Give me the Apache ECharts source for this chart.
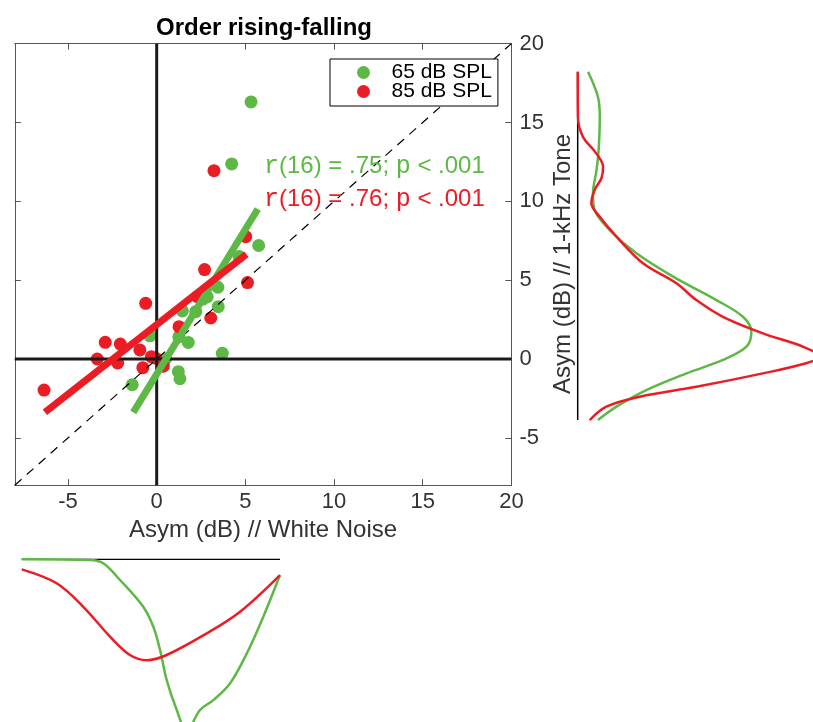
<!DOCTYPE html>
<html><head><meta charset="utf-8">
<script src="https://cdn.jsdelivr.net/npm/echarts@6/dist/echarts.min.js"></script>
<style>html,body{margin:0;padding:0;background:#fff}#c{width:813px;height:722px}</style>
</head><body><div id="c"></div>
<script>
// ---- data ----
const titleText = 'Order rising-falling';
const xLabel = 'Asym (dB) // White Noise';
const yLabel = 'Asym (dB) // 1-kHz Tone';
const seriesNames = ['65 dB SPL', '85 dB SPL'];
const tickValues = [-5, 0, 5, 10, 15, 20];
const axisMin = -8, axisMax = 20;

const green65X = [-1.38, 1.22, 1.31, 1.78, 1.25, 3.70, 3.47, 3.45, 2.85, 1.45, -0.38, 5.75, 4.65, 5.32, 4.23, 2.60, 2.20, 0.50];
const green65Y = [-1.63, -0.80, -1.25, 1.05, 1.40, 0.36, 3.32, 4.55, 3.95, 3.05, 1.47, 7.20, 6.50, 16.30, 12.37, 3.80, 3.00, 0.00];
const red85X = [-6.35, -2.90, -2.05, -3.35, -2.20, -0.95, -0.62, -0.78, -0.30, 0.37, 1.26, 2.70, 3.05, 5.12, 5.02, 3.23, 2.30, -0.05];
const red85Y = [-1.97, 1.06, 0.95, 0.00, -0.25, 0.58, 3.53, -0.55, 0.15, -0.45, 2.05, 5.67, 2.60, 4.85, 7.76, 11.94, 3.95, 0.05];

const fitGreenX = [-1.32, 5.70], fitGreenY = [-3.38, 9.51];
const fitRedX = [-6.30, 5.06], fitRedY = [-3.38, 6.64];

const statGreen = ['r', '(16) = .75; ', 'p', ' < .001'];
const statRed = ['r', '(16) = .76; ', 'p', ' < .001'];

// right marginal density (tone axis)
const rightGreenY = [18.22, 16.63, 15.36, 13.25, 11.98, 10.51, 9.45, 8.18, 6.70, 5.22, 3.74, 2.68, 1.73, 0.78, -0.06, -0.91, -1.97, -3.02, -3.87];
const rightGreenD = [0.044, 0.086, 0.094, 0.089, 0.080, 0.065, 0.072, 0.136, 0.250, 0.406, 0.590, 0.703, 0.739, 0.718, 0.618, 0.463, 0.292, 0.165, 0.086];
const rightRedY = [18.22, 15.36, 14.10, 13.04, 12.19, 11.46, 10.72, 9.87, 9.02, 7.76, 6.07, 4.80, 3.74, 2.68, 1.63, 0.78, 0.15, -0.27, -0.91, -1.76, -2.39, -3.02, -3.87];
const rightRedD = [0.000, 0.001, 0.022, 0.079, 0.108, 0.101, 0.072, 0.058, 0.094, 0.165, 0.278, 0.420, 0.505, 0.618, 0.788, 0.959, 1.030, 0.972, 0.788, 0.505, 0.264, 0.122, 0.051];
const rightBase = [18.22, -3.87];

// bottom marginal density (noise axis), drawn downward
const bottomGreenX = [-7.61, -3.76, -3.01, -2.07, -0.76, -0.19, 0.19, 0.56, 1.13, 1.69, 2.44, 3.19, 4.13, 5.08, 6.01, 6.95];
const bottomGreenD = [0.000, 0.003, 0.017, 0.088, 0.202, 0.287, 0.386, 0.513, 0.641, 0.730, 0.641, 0.599, 0.528, 0.400, 0.244, 0.067];
const bottomRedX = [-7.61, -5.64, -4.14, -2.63, -1.51, -0.56, 0.56, 2.82, 4.70, 6.95];
const bottomRedD = [0.043, 0.102, 0.202, 0.329, 0.407, 0.429, 0.407, 0.315, 0.223, 0.067];
const bottomBase = [-7.61, 6.95];
const densityMax = 1, bottomVisibleMax = 0.692;

// ---- styling ----
const GREEN = '#5DB845', RED = '#EC1C24', AX = '#555', TXT = '#333';
const FONT = '"Liberation Sans", Arial, Helvetica, sans-serif';
const zip = (a, b) => a.map((v, i) => [v, b[i]]);

const chart = echarts.init(document.getElementById('c'), null, {renderer: 'canvas'});

const mainTick = {show: true, inside: true, length: 6, lineStyle: {color: AX}, customValues: tickValues};
const mainLine = {show: true, onZero: false, lineStyle: {color: AX, width: 1}};
const hidden = {show: false};

const statRich = (col) => ({
  m: {fontFamily: '"Liberation Mono", "DejaVu Sans Mono", monospace', fontSize: 25, fill: col, color: col},
  s: {fontFamily: FONT, fontSize: 24, fill: col, color: col}
});
const statText = (parts) => '{m|' + parts[0] + '}{s|' + parts[1] + '}{m|' + parts[2] + '}{s|' + parts[3] + '}';

const option = {
  animation: false,
  backgroundColor: '#fff',
  title: {
    text: titleText, left: 259, top: 11, textAlign: 'center',
    textStyle: {fontFamily: FONT, fontWeight: 'bold', fontSize: 24, color: '#000'}
  },
  legend: {
    data: seriesNames, orient: 'vertical', left: 330, top: 59, align: 'left',
    padding: [3, 6, 4, 27], itemWidth: 46, itemHeight: 13, itemGap: -2,
    borderColor: '#000', borderWidth: 1, backgroundColor: '#fff',
    icon: 'circle', z: 10,
    textStyle: {fontFamily: FONT, fontSize: 21, color: '#000', lineHeight: 17}
  },
  grid: [
    {left: 14.8, top: 43.6, width: 496.6, height: 441.6},
    {left: 577.7, top: 43.6, width: 235, height: 441.6},
    {left: 21.7, top: 559.3, width: 258.3, bottom: 0}
  ],
  xAxis: [
    {gridIndex: 0, type: 'value', min: axisMin, max: axisMax, position: 'bottom',
     axisLine: mainLine, axisTick: mainTick, splitLine: hidden,
     axisLabel: {customValues: tickValues, fontFamily: FONT, fontSize: 22, color: TXT, margin: 6},
     name: xLabel, nameLocation: 'middle', nameGap: 29,
     nameTextStyle: {fontFamily: FONT, fontSize: 24, color: TXT, verticalAlign: 'top'}},
    {gridIndex: 0, type: 'value', min: axisMin, max: axisMax, position: 'top',
     axisLine: mainLine, axisTick: mainTick, splitLine: hidden, axisLabel: hidden},
    {gridIndex: 1, type: 'value', min: 0, max: densityMax, show: false},
    {gridIndex: 2, type: 'value', min: bottomBase[0], max: bottomBase[1], show: false}
  ],
  yAxis: [
    {gridIndex: 0, type: 'value', min: axisMin, max: axisMax, position: 'right',
     axisLine: mainLine, axisTick: mainTick, splitLine: hidden,
     axisLabel: {customValues: tickValues, fontFamily: FONT, fontSize: 22, color: TXT, margin: 8}},
    {gridIndex: 0, type: 'value', min: axisMin, max: axisMax, position: 'left',
     axisLine: mainLine, axisTick: mainTick, splitLine: hidden, axisLabel: hidden},
    {gridIndex: 1, type: 'value', min: axisMin, max: axisMax, show: false},
    {gridIndex: 2, type: 'value', min: 0, max: bottomVisibleMax, inverse: true, show: false}
  ],
  graphic: [
    {type: 'text', left: 264, top: 154, z: 50,
     style: {text: statText(statGreen), rich: statRich(GREEN), fill: GREEN, font: '24px ' + FONT}},
    {type: 'text', left: 264, top: 187, z: 50,
     style: {text: statText(statRed), rich: statRich(RED), fill: RED, font: '24px ' + FONT}},
    {type: 'text', x: 563, y: 264, rotation: Math.PI / 2, z: 50,
     style: {text: yLabel, fill: TXT, font: '24px ' + FONT, align: 'center', verticalAlign: 'middle'}}
  ],
  series: [
    {name: seriesNames[0], type: 'scatter', xAxisIndex: 0, yAxisIndex: 0, symbolSize: 13, z: 2,
     itemStyle: {color: GREEN, opacity: 1}, data: zip(green65X, green65Y)},
    {name: seriesNames[1], type: 'scatter', xAxisIndex: 0, yAxisIndex: 0, symbolSize: 13, z: 2,
     itemStyle: {color: RED, opacity: 1}, data: zip(red85X, red85Y)},
    {name: 'zeroV', type: 'line', xAxisIndex: 0, yAxisIndex: 0, symbol: 'none', z: 3,
     lineStyle: {color: '#1a1a1a', width: 3}, data: [[0, axisMin], [0, axisMax]]},
    {name: 'zeroH', type: 'line', xAxisIndex: 0, yAxisIndex: 0, symbol: 'none', z: 3,
     lineStyle: {color: '#1a1a1a', width: 3}, data: [[axisMin, 0], [axisMax, 0]]},
    {name: 'identity', type: 'line', xAxisIndex: 0, yAxisIndex: 0, symbol: 'none', z: 3,
     lineStyle: {color: '#000', width: 1.2, type: [9, 7]}, data: [[axisMin, axisMin], [axisMax, axisMax]]},
    {name: 'fitGreen', type: 'line', xAxisIndex: 0, yAxisIndex: 0, symbol: 'none', z: 4,
     lineStyle: {color: GREEN, width: 7, cap: 'butt'}, data: zip(fitGreenX, fitGreenY)},
    {name: 'fitRed', type: 'line', xAxisIndex: 0, yAxisIndex: 0, symbol: 'none', z: 5,
     lineStyle: {color: RED, width: 7, cap: 'butt'}, data: zip(fitRedX, fitRedY)},
    {name: 'rightBase', type: 'line', xAxisIndex: 2, yAxisIndex: 2, symbol: 'none', z: 2,
     lineStyle: {color: '#000', width: 1.5}, data: rightBase.map(v => [0, v])},
    {name: 'rightGreen', type: 'line', xAxisIndex: 2, yAxisIndex: 2, symbol: 'none', smooth: 0.35, z: 3,
     lineStyle: {color: GREEN, width: 2.5}, data: zip(rightGreenD, rightGreenY)},
    {name: 'rightRed', type: 'line', xAxisIndex: 2, yAxisIndex: 2, symbol: 'none', smooth: 0.35, z: 4,
     lineStyle: {color: RED, width: 2.5}, data: zip(rightRedD, rightRedY)},
    {name: 'bottomBase', type: 'line', xAxisIndex: 3, yAxisIndex: 3, symbol: 'none', z: 2,
     lineStyle: {color: '#000', width: 1.5}, data: bottomBase.map(v => [v, 0])},
    {name: 'bottomGreen', type: 'line', xAxisIndex: 3, yAxisIndex: 3, symbol: 'none', smooth: 0.35, z: 3,
     lineStyle: {color: GREEN, width: 2.5}, data: zip(bottomGreenX, bottomGreenD)},
    {name: 'bottomRed', type: 'line', xAxisIndex: 3, yAxisIndex: 3, symbol: 'none', smooth: 0.35, z: 4,
     lineStyle: {color: RED, width: 2.5}, data: zip(bottomRedX, bottomRedD)}
  ]
};
chart.setOption(option);
</script>
</body></html>
